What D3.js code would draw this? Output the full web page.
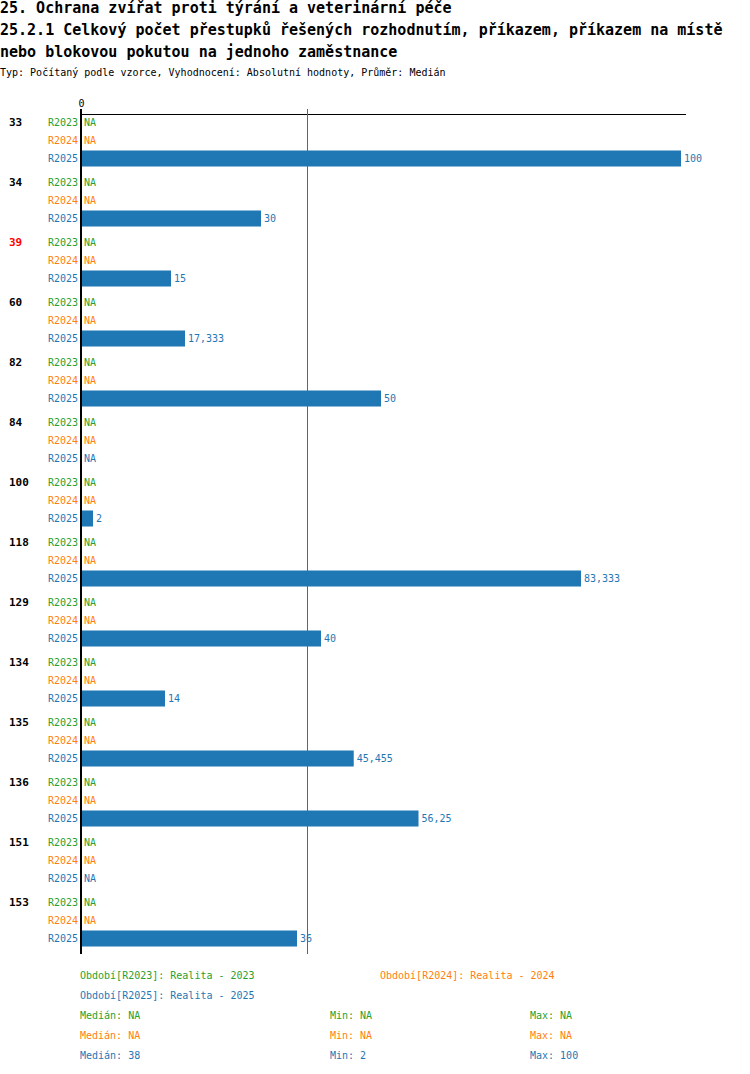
<!DOCTYPE html>
<html><head><meta charset="utf-8">
<script src="https://cdn.jsdelivr.net/npm/d3@7"></script>
<style>body{margin:0;background:#fff}svg{display:block}text{font-family:"DejaVu Sans Mono",monospace}</style>
</head><body>
<svg id="c" width="750" height="1074"></svg>
<script>
const titleLines = ["25. Ochrana zvířat proti týrání a veterinární péče",
  "25.2.1 Celkový počet přestupků řešených rozhodnutím, příkazem, příkazem na místě",
  "nebo blokovou pokutou na jednoho zaměstnance"];
const subtitle = "Typ: Počítaný podle vzorce, Vyhodnocení: Absolutní hodnoty, Průměr: Medián";
const categories = ["33","34","39","60","82","84","100","118","129","134","135","136","151","153"];
const highlighted = ["39"];
const seriesNames = ["R2023","R2024","R2025"];
const seriesColors = ["#2ca02c","#ff7f0e","#1f77b4"];
const seriesLegend = ["Období[R2023]: Realita - 2023","Období[R2024]: Realita - 2024","Období[R2025]: Realita - 2025"];
const valuesR2023 = [null,null,null,null,null,null,null,null,null,null,null,null,null,null];
const valuesR2024 = [null,null,null,null,null,null,null,null,null,null,null,null,null,null];
const valuesR2025 = [100,30,15,17.333,50,null,2,83.333,40,14,45.455,56.25,null,36];
const xTicks = [0];
const statMedian = [null,null,38];
const statMin = [null,null,2];
const statMax = [null,null,100];

const seriesValues = [valuesR2023, valuesR2024, valuesR2025];
const svg = d3.select("#c");
const fmt = v => v == null ? "NA" : String(v).replace(".", ",");

// titles
svg.selectAll("text.title").data(titleLines).join("text")
  .attr("x", 0).attr("y", (d,i) => 13 + i*22)
  .attr("font-size", 15).attr("font-weight", "bold").text(d => d);
svg.append("text").attr("x", 0).attr("y", 76).attr("font-size", 10).text(subtitle);

const x = d3.scaleLinear().domain([0,100]).range([81,681]);
const y = d3.scaleBand().domain(categories).range([113.5, 953.5]);
const ys = d3.scaleBand().domain(seriesNames).range([0, 54]);
const barH = 16;

// axis (top)
const axis = d3.axisTop(x).tickValues(xTicks).tickSize(0).tickFormat(d3.format("d"));
const gA = svg.append("g").attr("transform", "translate(0,114)").call(axis);
gA.select(".domain").remove();
gA.selectAll("text").attr("font-size", 10).attr("font-family", "DejaVu Sans Mono").attr("dy", "-0.4em");
svg.append("line").attr("x1", x(0)-1).attr("x2", x(100)+5).attr("y1", 114.5).attr("y2", 114.5)
  .attr("stroke", "#000").attr("stroke-width", 1);

// median line
svg.append("line").attr("x1", x(statMedian[2]) - 1.5).attr("x2", x(statMedian[2]) - 1.5)
  .attr("y1", 109).attr("y2", 954).attr("stroke", seriesColors[2]).attr("stroke-width", 1);

// groups
const g = svg.selectAll("g.grp").data(categories).join("g").attr("class","grp")
  .attr("transform", d => `translate(0,${y(d)})`);
g.append("text").attr("x", 9).attr("y", ys(seriesNames[0]) + ys.bandwidth()/2).attr("dy","0.35em")
  .attr("font-size", 11).attr("font-weight","bold")
  .attr("fill", d => highlighted.includes(d) ? "#ff0000" : "#000").text(d => d);

seriesNames.forEach((s, si) => {
  const cy = ys(s) + ys.bandwidth()/2;
  g.append("text").attr("x", 78).attr("y", cy).attr("dy","0.35em").attr("text-anchor","end")
    .attr("font-size", 10).attr("fill", seriesColors[si]).text(s);
  g.filter((d,i) => seriesValues[si][i] != null).append("rect")
    .attr("x", x(0)).attr("y", cy - barH/2).attr("height", barH)
    .attr("width", d => x(seriesValues[si][categories.indexOf(d)]) - x(0))
    .attr("fill", seriesColors[si]);
  g.append("text").attr("y", cy).attr("dy","0.35em").attr("font-size", 10).attr("fill", seriesColors[si])
    .attr("x", d => { const v = seriesValues[si][categories.indexOf(d)]; return (v == null ? x(0) : x(v)) + 3; })
    .text(d => fmt(seriesValues[si][categories.indexOf(d)]));
});

// zero axis
svg.append("line").attr("x1", x(0)).attr("x2", x(0)).attr("y1", 109).attr("y2", 954)
  .attr("stroke", "#000").attr("stroke-width", 2);

// legend
const legPos = [[80,975],[380,975],[80,995]];
seriesLegend.forEach((t,i) => svg.append("text").attr("x", legPos[i][0]).attr("y", legPos[i][1]).attr("dy","0.35em")
  .attr("font-size", 10).attr("fill", seriesColors[i]).text(t));
seriesNames.forEach((s,i) => {
  const yy = 1015 + i*20;
  svg.append("text").attr("x",80).attr("y",yy).attr("dy","0.35em").attr("font-size",10).attr("fill",seriesColors[i]).text("Medián: " + fmt(statMedian[i]));
  svg.append("text").attr("x",330).attr("y",yy).attr("dy","0.35em").attr("font-size",10).attr("fill",seriesColors[i]).text("Min: " + fmt(statMin[i]));
  svg.append("text").attr("x",530).attr("y",yy).attr("dy","0.35em").attr("font-size",10).attr("fill",seriesColors[i]).text("Max: " + fmt(statMax[i]));
});
</script>
</body></html>
